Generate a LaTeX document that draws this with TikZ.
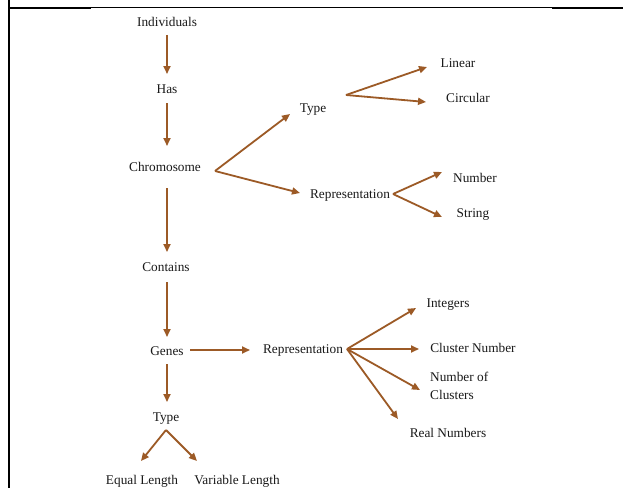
\documentclass[tikz,border=0pt]{standalone}
\usepackage{fontspec}
\setmainfont{Liberation Serif}
\usetikzlibrary{arrows.meta,calc}
\definecolor{arrowbrown}{RGB}{156,90,38}
\definecolor{labelgray}{RGB}{25,25,25}

\begin{document}
\begin{tikzpicture}[x=1pt,y=-1pt,
  lbl/.style={text=labelgray, font=\fontsize{13.3}{18}\selectfont,
              inner sep=0pt, text height=9.2pt, text depth=0pt, anchor=center},
  multilbl/.style={text=labelgray, font=\fontsize{13.3}{18}\selectfont,
              inner sep=0pt, align=left, anchor=west},
  link/.style={draw=arrowbrown, line width=1.8pt,
               -{Triangle[length=8pt,width=7pt]}},
  frame/.style={draw=black, line cap=rect}]

% page area and white background
\useasboundingbox (0,0) rectangle (623,487);
\fill[white] (0,0) rectangle (623,487);

% table frame: left rule and top rule
\draw[frame, line width=2.3pt] (9,0) -- (9,487);
\draw[frame, line width=2pt] (9,7.8) -- (90,7.8);
\draw[black, line width=1.1pt] (90,7.4) -- (553,7.4);
\draw[frame, line width=2pt] (553,7.8) -- (623,7.8);

% main column
\node[lbl] (ind)   at (167,22)  {Individuals};
\node[lbl] (has)   at (167,89)  {Has};
\node[lbl] (chr)   at (165,167) {Chromosome};
\node[lbl] (cont)  at (166,267) {Contains};
\node[lbl] (genes) at (167,351) {Genes};
\node[lbl] (typeB) at (166,417) {Type};
\node[lbl] (eq)    at (142,480) {Equal Length};
\node[lbl] (var)   at (237,480) {Variable Length};

% chromosome branches
\node[lbl] (typeA) at (313,108) {Type};
\node[lbl] (repA)  at (350,194) {Representation};
\node[lbl] (lin)   at (458,63)  {Linear};
\node[lbl] (circ)  at (468,98)  {Circular};
\node[lbl] (num)   at (475,178) {Number};
\node[lbl] (str)   at (473,213) {String};

% gene branches
\node[lbl] (repB)  at (303,349) {Representation};
\node[lbl] (ints)  at (448,303) {Integers};
\node[lbl] (cnum)  at (473,348) {Cluster Number};
\node[multilbl] (noc) at (430,386) {Number of\\Clusters};
\node[lbl] (real)  at (448,433) {Real Numbers};

% fork points where branching arrows start
\coordinate (chrfork)   at ($(chr)+(50,4)$);
\coordinate (typeAfork) at ($(typeA)+(33,-13)$);
\coordinate (repAfork)  at ($(repA)+(43,0)$);
\coordinate (repBfork)  at ($(repB)+(44,0)$);
\coordinate (typeBfork) at ($(typeB)+(0,13)$);

% vertical chain
\draw[link] ($(ind)+(0,13)$)    -- ($(has)+(0,-15)$);
\draw[link] ($(has)+(0,14)$)    -- ($(chr)+(2,-21)$);
\draw[link] ($(chr)+(2,21)$)    -- ($(cont)+(1,-15)$);
\draw[link] ($(cont)+(1,15)$)   -- ($(genes)+(0,-14)$);
\draw[link] ($(genes)+(0,13)$)  -- ($(typeB)+(1,-15)$);

% chromosome type / representation
\draw[link] (chrfork) -- ($(typeA)+(-23,6)$);
\draw[link] (chrfork) -- ($(repA)+(-50,-1)$);
\draw[link] (typeAfork) -- ($(lin)+(-31,4)$);
\draw[link] (typeAfork) -- ($(circ)+(-42,4)$);
\draw[link] (repAfork) -- ($(num)+(-33,-6)$);
\draw[link] (repAfork) -- ($(str)+(-31,4)$);

% gene representation
\draw[link] ($(genes)+(23,-1)$) -- ($(repB)+(-53,1)$);
\draw[link] (repBfork) -- ($(ints)+(-32,5)$);
\draw[link] (repBfork) -- ($(cnum)+(-54,1)$);
\draw[link] (repBfork) -- ($(noc.west)+(-10,4)$);
\draw[link] (repBfork) -- ($(real)+(-50,-14)$);

% gene type
\draw[link] (typeBfork) -- ($(eq)+(-1,-19)$);
\draw[link] (typeBfork) -- ($(var)+(-40,-19)$);
\end{tikzpicture}
\end{document}
